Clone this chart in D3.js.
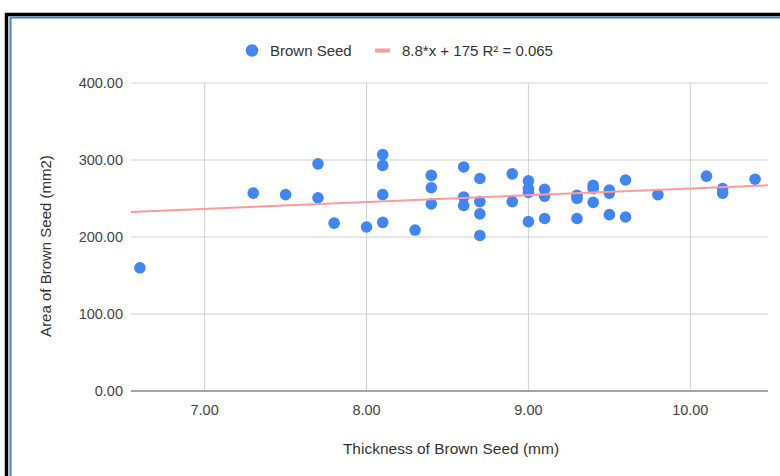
<!DOCTYPE html>
<html>
<head>
<meta charset="utf-8">
<script src="https://cdn.jsdelivr.net/npm/d3@7"></script>
<style>
  body { margin: 0; background: #fff; }
  svg { display: block; font-family: "Liberation Sans", Arial, sans-serif; }
</style>
</head>
<body>
<script>
// thickness (mm) and area (mm2) of each seed
const thickness = [6.6, 7.3, 7.5, 7.7, 7.7, 7.8, 8.0, 8.1, 8.1, 8.1, 8.1, 8.3,
  8.4, 8.4, 8.4, 8.6, 8.6, 8.6, 8.7, 8.7, 8.7, 8.7, 8.9, 8.9,
  9.0, 9.0, 9.0, 9.0, 9.1, 9.1, 9.1, 9.3, 9.3, 9.3, 9.4, 9.4, 9.4,
  9.5, 9.5, 9.5, 9.6, 9.6, 9.8, 10.1, 10.2, 10.2, 10.4]
const area = [160, 257, 255, 295, 251, 218, 213, 307, 293, 255, 219, 209,
  280, 264, 243, 291, 252, 241, 276, 246, 230, 202, 282, 246,
  273, 263, 258, 220, 262, 253, 224, 254, 250, 224, 267, 263, 245,
  261, 257, 229, 274, 226, 255, 279, 263, 257, 275]

const xTicks = [7, 8, 9, 10]
const yTicks = [0, 100, 200, 300, 400]
const trendSlope = 8.8, trendIntercept = 175
const seriesName = 'Brown Seed'
const trendLabel = '8.8*x + 175 R\u00b2 = 0.065'

const width = 780, height = 476
const plot = {left: 131, right: 768, top: 83, bottom: 391}

const svg = d3.select('body').append('svg')
  .attr('width', width)
  .attr('height', height)

/* frame round the chart */
svg.append('path')
  .attr('d', `M6.5,${height} V14.5 H${width}`)
  .attr('fill', 'none').attr('stroke', '#000').attr('stroke-width', 3.5)
svg.append('path')
  .attr('d', `M10.5,${height} V17.5 H${width}`)
  .attr('fill', 'none').attr('stroke', '#4a7ebf').attr('stroke-width', 2)

const x = d3.scaleLinear().domain([6.545, 10.48]).range([plot.left, plot.right])
const y = d3.scaleLinear().domain([0, 400]).range([plot.bottom, plot.top])

const g = svg.append('g')

// grid
g.selectAll('.gx').data(xTicks).enter().append('line')
  .attr('x1', d => x(d)).attr('x2', d => x(d))
  .attr('y1', plot.top).attr('y2', plot.bottom)
  .attr('stroke', '#d0d0d0').attr('stroke-width', 1)
g.selectAll('.gy').data(yTicks.filter(d => d > 0)).enter().append('line')
  .attr('x1', plot.left).attr('x2', plot.right)
  .attr('y1', d => y(d)).attr('y2', d => y(d))
  .attr('stroke', '#d0d0d0').attr('stroke-width', 1)

// baseline
g.append('line')
  .attr('x1', plot.left).attr('x2', plot.right)
  .attr('y1', y(0)).attr('y2', y(0))
  .attr('stroke', '#888').attr('stroke-width', 1.5)

// tick labels
g.selectAll('.ty').data(yTicks).enter().append('text')
  .attr('x', 123).attr('y', d => y(d) + 5)
  .attr('text-anchor', 'end').attr('font-size', 14.5).attr('fill', '#444')
  .text(d => d3.format('.2f')(d))
g.selectAll('.tx').data(xTicks).enter().append('text')
  .attr('x', d => x(d)).attr('y', 415)
  .attr('text-anchor', 'middle').attr('font-size', 14.5).attr('fill', '#444')
  .text(d => d3.format('.2f')(d))

// axis titles
svg.append('text')
  .attr('x', 451).attr('y', 454)
  .attr('text-anchor', 'middle').attr('font-size', 15.5).attr('fill', '#333')
  .text('Thickness of Brown Seed (mm)')
svg.append('text')
  .attr('transform', 'translate(51,246) rotate(-90)')
  .attr('text-anchor', 'middle').attr('font-size', 15).attr('fill', '#333')
  .text('Area of Brown Seed (mm2)')

// points
const pts = thickness.map((t, i) => ({t, a: area[i]}))
g.selectAll('circle.dot').data(pts).enter().append('circle')
  .attr('class', 'dot')
  .attr('cx', d => x(d.t)).attr('cy', d => y(d.a))
  .attr('r', 5.8).attr('fill', '#4285f4')

// trendline
const xd = x.domain()
g.append('line')
  .attr('x1', x(xd[0])).attr('y1', y(trendSlope * xd[0] + trendIntercept))
  .attr('x2', x(xd[1])).attr('y2', y(trendSlope * xd[1] + trendIntercept))
  .attr('stroke', '#ff9a9a').attr('stroke-width', 2)

// legend
const lg = svg.append('g')
lg.append('circle').attr('cx', 252).attr('cy', 50.5).attr('r', 6.2).attr('fill', '#4285f4')
lg.append('text').attr('x', 270).attr('y', 55.5).attr('font-size', 15).attr('fill', '#333').text(seriesName)
lg.append('line').attr('x1', 375).attr('x2', 390).attr('y1', 50.5).attr('y2', 50.5)
  .attr('stroke', '#ff9a9a').attr('stroke-width', 4)
lg.append('text').attr('x', 402).attr('y', 55.5).attr('font-size', 15).attr('fill', '#333').text(trendLabel)
</script>
</body>
</html>
